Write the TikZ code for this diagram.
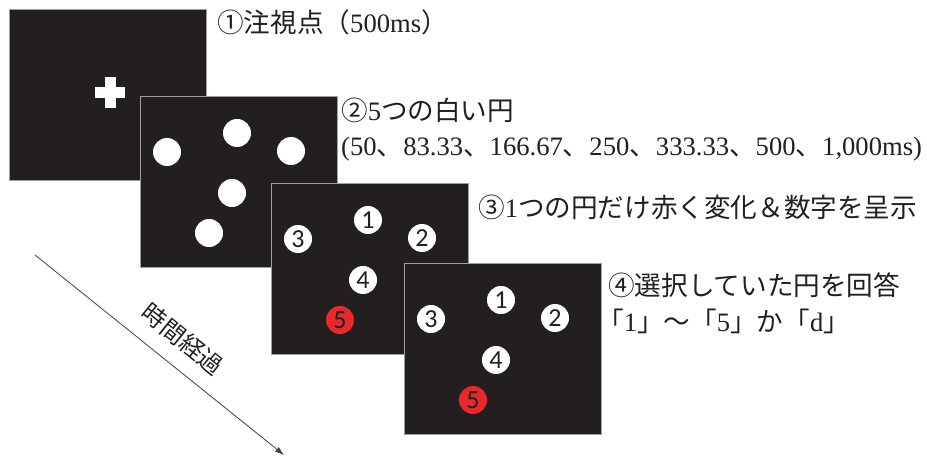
\documentclass[tikz,border=0pt]{standalone}
\usepackage{fontspec}
\setmainfont{Liberation Serif}
\newfontfamily\jp{Noto Sans CJK JP}
\newfontfamily\numfont{Carlito}
\usetikzlibrary{calc,arrows.meta}
\definecolor{panelfill}{HTML}{231F20}
\definecolor{panelline}{HTML}{A0A0A0}
\definecolor{redfill}{HTML}{E8282B}
\definecolor{txt}{HTML}{231F20}
\tikzset{
  panel/.style={rectangle, draw=panelline, line width=1.2pt, fill=panelfill,
    minimum width=197pt, minimum height=171pt, inner sep=0pt, anchor=north west},
  dot/.style={circle, fill=white, minimum size=28pt, inner sep=0pt,
    font=\numfont\fontsize{26}{26}\selectfont, text=txt},
  reddot/.style={dot, fill=redfill},
  crossbar/.style={rectangle, fill=white, inner sep=0pt},
  lbl/.style={anchor=base west, inner sep=0pt, font=\fontsize{26.6}{30}\selectfont, text=txt},
  timearrow/.style={line width=0.8pt, draw=black!75, -{Latex[length=9pt,width=6pt]}},
}
\begin{document}
\begin{tikzpicture}[x=1pt,y=-1pt]
\useasboundingbox (0,0) rectangle (927,457);

% panel 1: fixation
\node[panel] (p1) at (9,9) {};
\node[crossbar, minimum width=30pt, minimum height=11pt] (crossh) at ($(p1.north west)+(101,84)$) {};
\node[crossbar, minimum width=11pt, minimum height=31pt] (crossv) at ($(p1.north west)+(101,84)$) {};

% panel 2: five white circles
\node[panel] (p2) at (140,96) {};
\node[dot] (p2l) at ($(p2.north west)+(27,56)$) {};
\node[dot] (p2t) at ($(p2.north west)+(97,37)$) {};
\node[dot] (p2r) at ($(p2.north west)+(151,55)$) {};
\node[dot] (p2m) at ($(p2.north west)+(92,97)$) {};
\node[dot] (p2b) at ($(p2.north west)+(69,137)$) {};

% panel 3: numbers and red circle
\node[panel] (p3) at (271,183) {};
\node[dot] (p3l) at ($(p3.north west)+(27,56)$) {3};
\node[dot] (p3t) at ($(p3.north west)+(97,37)$) {1};
\node[dot] (p3r) at ($(p3.north west)+(151,55)$) {2};
\node[dot] (p3m) at ($(p3.north west)+(92,97)$) {4};
\node[reddot] (p3b) at ($(p3.north west)+(69,137)$) {5};

% panel 4: response
\node[panel] (p4) at (404,263) {};
\node[dot] (p4l) at ($(p4.north west)+(27,56)$) {3};
\node[dot] (p4t) at ($(p4.north west)+(97,37)$) {1};
\node[dot] (p4r) at ($(p4.north west)+(151,55)$) {2};
\node[dot] (p4m) at ($(p4.north west)+(92,97)$) {4};
\node[reddot] (p4b) at ($(p4.north west)+(69,137)$) {5};

% labels
\node[lbl] (t1) at (217,33) {{\jp ①注視点（}500ms{\jp ）}};
\node[lbl] (t2a) at (341,121) {{\jp ②}5{\jp つの白い円}};
\node[lbl] (t2b) at (341,156) {(50{\jp 、}83.33{\jp 、}166.67{\jp 、}250{\jp 、}333.33{\jp 、}500{\jp 、}1,000ms)};
\node[lbl] (t3) at (478,218) {{\jp ③}1{\jp つの円だけ赤く変化＆数字を呈示}};
\node[lbl] (t4a) at (608,296) {{\jp ④選択していた円を回答}};
\node[lbl] (t4b) at (597,331) {{\jp 「}1{\jp 」～「}5{\jp 」か「}d{\jp 」}};

% time arrow
\coordinate (ts) at (35,255);
\coordinate (te) at (284,455);
\draw[timearrow] (ts) -- (te);
\node[rotate=-38.9, inner sep=0pt, font=\jp\fontsize{24}{24}\selectfont, text=txt] (timelbl) at (183,339) {時間経過};
\end{tikzpicture}
\end{document}
